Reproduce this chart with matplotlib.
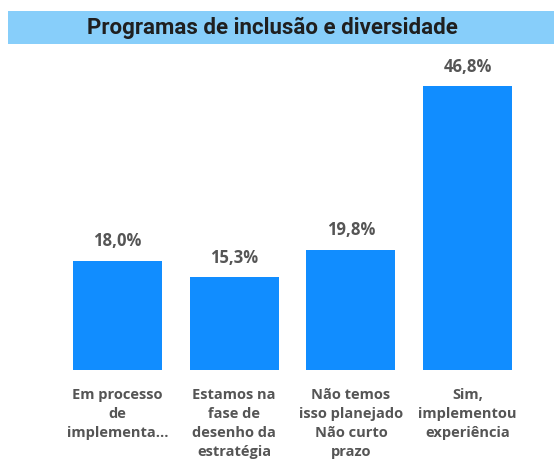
import matplotlib
matplotlib.use("Agg")
import matplotlib.pyplot as plt
from matplotlib.patches import Rectangle

categories = ["Em processo\nde\nimplementa...",
              "Estamos na\nfase de\ndesenho da\nestratégia",
              "Não temos\nisso planejado\nNão curto\nprazo",
              "Sim,\nimplementou\nexperiência"]
values = [18.0, 15.3, 19.8, 46.8]
value_labels = ["18,0%", "15,3%", "19,8%", "46,8%"]
title = "Programas de inclusão e diversidade"

W, H = 554, 459
fig = plt.figure(figsize=(W / 100, H / 100), dpi=100)

# title bar
fig.patches.append(Rectangle((8 / W, 1 - 44 / H), 1 - 8 / W, 33 / H,
                             transform=fig.transFigure, facecolor="#87CEFA",
                             edgecolor="none", zorder=0))
fig.text(272 / W, 1 - 28 / H, title, ha="center", va="center",
         fontsize=16, fontweight="bold", family=["Roboto", "DejaVu Sans"],
         color="#1f1f1f")

ax_l, ax_r, ax_b, ax_t = 50, 540, 370, 60
ax = fig.add_axes([ax_l / W, 1 - ax_b / H, (ax_r - ax_l) / W, (ax_b - ax_t) / H])
ppu = 116.7
ax.set_xlim((ax_l - 117.5) / ppu, (ax_r - 117.5) / ppu)
ax.set_ylim(0, (ax_b - ax_t) / 6.07)

x = list(range(len(values)))
ax.bar(x, values, width=0.763, color="#118DFF", zorder=2)
for xi, v, lab in zip(x, values, value_labels):
    ax.annotate(lab, (xi, v), xytext=(0, 7.5), textcoords="offset points",
                ha="center", va="bottom", fontsize=12, fontweight="bold",
                family=["Open Sans", "DejaVu Sans"], color="#555555")

ax.set_xticks(x)
ax.set_xticklabels(categories, fontsize=10.5, fontweight="bold",
                   family=["Open Sans", "DejaVu Sans"], color="#555555",
                   linespacing=1.45)
ax.tick_params(axis="x", length=0, pad=13)
ax.set_yticks([])
for s in ax.spines.values():
    s.set_visible(False)

fig.savefig("out.png", dpi=100)
